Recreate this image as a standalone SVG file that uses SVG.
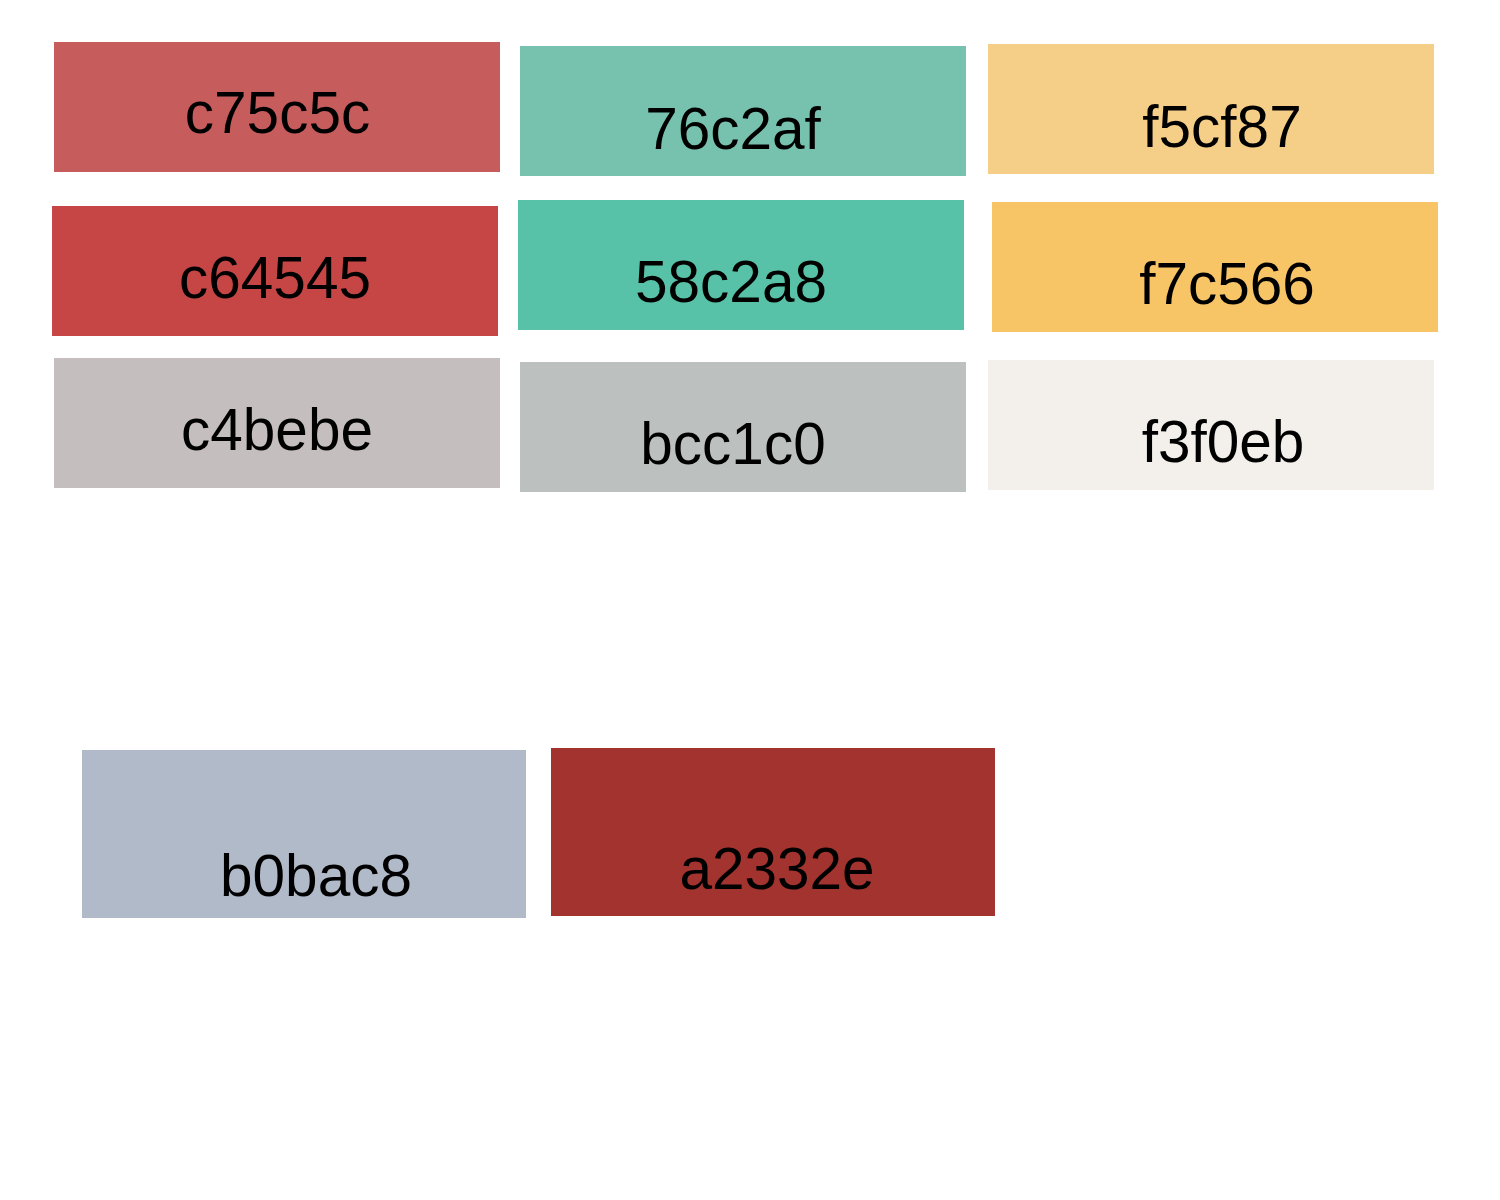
<svg xmlns="http://www.w3.org/2000/svg" width="1500" height="1200" viewBox="0 0 1500 1200">
<style>
text{font-family:"Liberation Sans",Arial,sans-serif;font-size:58.5px;fill:#000;text-anchor:middle}
</style>
<rect width="1500" height="1200" fill="#ffffff"/>
<g id="c75c5c"><rect x="54" y="42" width="446" height="130" fill="#c75c5c"/><text x="277.5" y="133">c75c5c</text></g>
<g id="76c2af"><rect x="520" y="46" width="446" height="130" fill="#76c2af"/><text x="733" y="149">76c2af</text></g>
<g id="f5cf87"><rect x="988" y="44" width="446" height="130" fill="#f5cf87"/><text x="1222" y="147">f5cf87</text></g>
<g id="c64545"><rect x="52" y="206" width="446" height="130" fill="#c64545"/><text x="275" y="298">c64545</text></g>
<g id="58c2a8"><rect x="518" y="200" width="446" height="130" fill="#58c2a8"/><text x="731" y="302">58c2a8</text></g>
<g id="f7c566"><rect x="992" y="202" width="446" height="130" fill="#f7c566"/><text x="1227" y="304">f7c566</text></g>
<g id="c4bebe"><rect x="54" y="358" width="446" height="130" fill="#c4bebe"/><text x="277" y="450">c4bebe</text></g>
<g id="bcc1c0"><rect x="520" y="362" width="446" height="130" fill="#bcc1c0"/><text x="733" y="464">bcc1c0</text></g>
<g id="f3f0eb"><rect x="988" y="360" width="446" height="130" fill="#f3f0eb"/><text x="1223" y="462">f3f0eb</text></g>
<g id="b0bac8"><rect x="82" y="750" width="444" height="168" fill="#b0bac8"/><text x="316" y="896">b0bac8</text></g>
<g id="a2332e"><rect x="551" y="748" width="444" height="168" fill="#a2332e"/><text x="777" y="889">a2332e</text></g>
<g id="connectors"></g>
</svg>
